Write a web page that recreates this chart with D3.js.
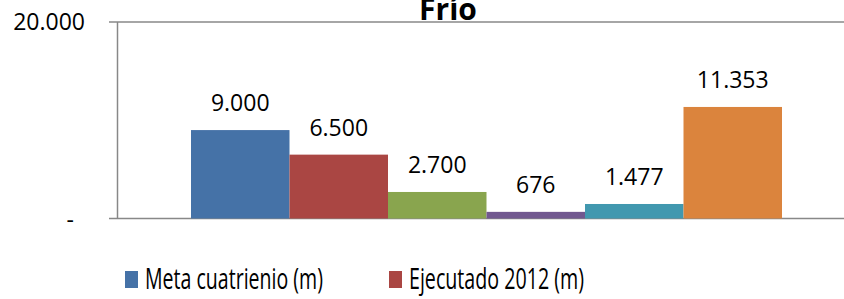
<!DOCTYPE html>
<html>
<head>
<meta charset="utf-8">
<script src="https://cdn.jsdelivr.net/npm/d3@7"></script>
<style>
	body { margin: 0; background: #fff; }
	svg { display: block; font-family: 'Open Sans', sans-serif; }
</style>
</head>
<body>
<svg id="chart" width="844" height="299"></svg>
<script>
var title = 'Frío';
var barKeys = ['s1', 's2', 's3', 's4', 's5', 's6'];
var barValues = [9000, 6500, 2700, 676, 1477, 11353];
var barLabels = ['9.000', '6.500', '2.700', '676', '1.477', '11.353'];
var barColors = ['#4572a7', '#aa4643', '#89a54e', '#71588f', '#4198af', '#db843d'];
var yTicks = [0, 20000];
var yTickLabels = ['-', '20.000'];
var legendNames = ['Meta cuatrienio (m)', 'Ejecutado 2012 (m)'];

var svg = d3.select('#chart');

var y = d3.scaleLinear()
	.domain([0, 20000])
	.range([218.5, 22]);

var x = d3.scaleBand()
	.domain(barKeys)
	.range([191, 782])
	.padding(0);

// gridline at the top and the baseline
svg.selectAll('.hline')
	.data(yTicks)
	.enter()
	.append('line')
		.attr('x1', 109)
		.attr('x2', 844)
		.attr('y1', d => y(d))
		.attr('y2', d => y(d))
		.attr('stroke', '#888')
		.attr('stroke-width', 1.5);

// y axis
svg.append('line')
	.attr('x1', 117.5)
	.attr('x2', 117.5)
	.attr('y1', y(20000))
	.attr('y2', y(0))
	.attr('stroke', '#888')
	.attr('stroke-width', 1.5);

// "-" sits a bit further left (accounting format)
svg.selectAll('.ylabel')
	.data(yTicks)
	.enter()
	.append('text')
		.attr('x', (d, i) => i === 0 ? 74 : 85)
		.attr('y', (d, i) => y(d) + (i === 0 ? 9 : 8))
		.attr('text-anchor', 'end')
		.attr('font-size', 23)
		.attr('fill', '#000')
		.text((d, i) => yTickLabels[i]);

// bars
svg.selectAll('.bar')
	.data(barValues)
	.enter()
	.append('rect')
		.attr('x', (d, i) => x(barKeys[i]))
		.attr('y', d => y(d))
		.attr('width', x.bandwidth())
		.attr('height', d => y(0) - y(d))
		.attr('fill', (d, i) => barColors[i]);

svg.selectAll('.barlabel')
	.data(barValues)
	.enter()
	.append('text')
		.attr('x', (d, i) => x(barKeys[i]) + x.bandwidth() / 2)
		.attr('y', d => y(d) - 19)
		.attr('text-anchor', 'middle')
		.attr('font-size', 23)
		.attr('fill', '#000')
		.text((d, i) => barLabels[i]);

// title, cut at the top like the original
svg.append('text')
	.attr('x', 448)
	.attr('y', 20)
	.attr('text-anchor', 'middle')
	.attr('font-size', 30)
	.attr('font-weight', 'bold')
	.attr('fill', '#000')
	.text(title);

// legend
var legendX = [125, 389];
var legendW = [178, 175];

var legend = svg.selectAll('.legend')
	.data(legendNames)
	.enter()
	.append('g')
		.attr('transform', (d, i) => 'translate(' + legendX[i] + ',0)');

legend.append('rect')
	.attr('x', 0)
	.attr('y', 271)
	.attr('width', 13)
	.attr('height', 17)
	.attr('fill', (d, i) => barColors[i]);

legend.append('text')
	.attr('x', 20)
	.attr('y', 289)
	.attr('font-size', 29)
	.attr('fill', '#000')
	.attr('textLength', (d, i) => legendW[i])
	.attr('lengthAdjust', 'spacingAndGlyphs')
	.text(d => d);
</script>
</body>
</html>
